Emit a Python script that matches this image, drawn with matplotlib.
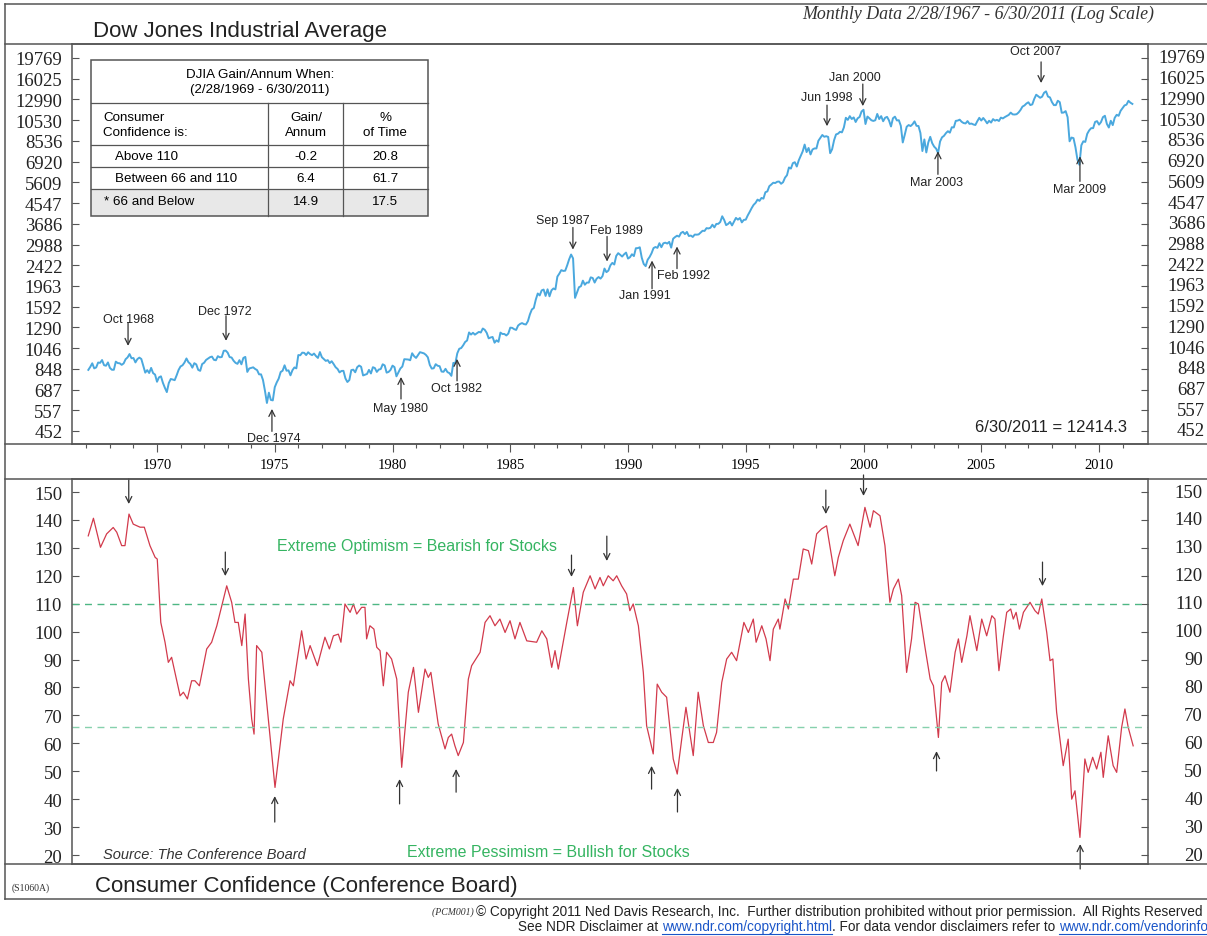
"""Dow Jones Industrial Average vs Consumer Confidence (NDR chart S1060A) recreation."""
import matplotlib
matplotlib.use("Agg")
import matplotlib.pyplot as plt
import numpy as np
from matplotlib.lines import Line2D
from matplotlib.patches import Rectangle
from matplotlib.ticker import FixedLocator, NullLocator

plt.rcParams["font.family"] = ["Liberation Sans", "DejaVu Sans"]
SERIF = ["Liberation Serif", "DejaVu Serif"]

# ---------------- data ----------------
# DJIA monthly closes, Feb 1967 .. Jun 2011 (Oct 1987 = crash low as drawn)
djia_start = 1967 + 1 / 12
djia = [
    839, 865, 897, 852, 860, 904, 901, 927, 880, 875, 905,                      # 1967 (Feb-Dec)
    856, 840, 840, 912, 899, 897, 883, 896, 935, 952, 985, 944,                 # 1968
    946, 905, 936, 950, 937, 873, 816, 837, 813, 856, 812, 800,                 # 1969
    744, 778, 786, 736, 700, 670, 734, 765, 761, 756, 794, 839,                 # 1970
    869, 879, 904, 942, 907, 891, 858, 898, 887, 839, 831, 890,                 # 1971
    902, 928, 941, 954, 960, 929, 925, 964, 953, 956, 1018, 1020,               # 1972
    999, 955, 951, 921, 901, 892, 926, 888, 947, 957, 822, 851,                 # 1973
    856, 861, 847, 837, 802, 802, 757, 679, 600, 666, 619, 616,                 # 1974
    704, 739, 768, 821, 832, 879, 832, 835, 794, 836, 860, 852,                 # 1975
    975, 973, 999, 997, 975, 1003, 985, 974, 990, 965, 947, 1005,               # 1976
    954, 936, 919, 926, 899, 916, 890, 862, 847, 818, 830, 831,                 # 1977
    770, 742, 757, 837, 841, 819, 862, 877, 866, 793, 799, 805,                 # 1978
    839, 809, 862, 855, 822, 842, 846, 888, 878, 816, 822, 839,                 # 1979
    876, 863, 786, 817, 851, 868, 935, 933, 932, 925, 993, 964,                 # 1980
    947, 975, 1004, 998, 992, 977, 953, 882, 850, 853, 889, 875,                # 1981
    871, 825, 823, 848, 820, 812, 790, 901, 896, 992, 1039, 1047,               # 1982
    1076, 1113, 1130, 1226, 1200, 1222, 1199, 1216, 1233, 1225, 1276, 1259,     # 1983
    1221, 1155, 1165, 1171, 1105, 1132, 1115, 1224, 1207, 1207, 1189, 1212,     # 1984
    1287, 1284, 1267, 1258, 1315, 1336, 1348, 1334, 1329, 1375, 1472, 1547,     # 1985
    1571, 1709, 1819, 1784, 1877, 1893, 1775, 1898, 1768, 1878, 1914, 1896,     # 1986
    2158, 2224, 2305, 2286, 2292, 2419, 2572, 2700, 2596, 1740, 1834, 1939,     # 1987
    1958, 2072, 1988, 2032, 2031, 2142, 2129, 2032, 2113, 2149, 2115, 2169,     # 1988
    2342, 2258, 2294, 2419, 2480, 2440, 2661, 2737, 2693, 2645, 2706, 2753,     # 1989
    2591, 2627, 2707, 2657, 2877, 2881, 2905, 2614, 2453, 2400, 2560, 2634,     # 1990
    2736, 2882, 2914, 2888, 3028, 2907, 3025, 3044, 3017, 3069, 2895, 3169,     # 1991
    3223, 3267, 3236, 3359, 3397, 3319, 3394, 3257, 3272, 3226, 3305, 3301,     # 1992
    3310, 3370, 3435, 3428, 3527, 3516, 3540, 3651, 3555, 3681, 3684, 3754,     # 1993
    3978, 3832, 3636, 3682, 3758, 3625, 3765, 3913, 3843, 3908, 3739, 3834,     # 1994
    3844, 4011, 4158, 4321, 4465, 4556, 4709, 4650, 4789, 4756, 5075, 5117,     # 1995
    5395, 5486, 5588, 5569, 5643, 5655, 5529, 5616, 5882, 6029, 6522, 6448,     # 1996
    6813, 6878, 6584, 7009, 7331, 7673, 8223, 7622, 7945, 7442, 7823, 7908,     # 1997
    7907, 8546, 8800, 9063, 8900, 8952, 8883, 7539, 7843, 8592, 9117, 9181,     # 1998
    9359, 9307, 9786, 10789, 10560, 10971, 10655, 10829, 10337, 10730, 10878, 11497,  # 1999
    11700, 10128, 10922, 10734, 10522, 10448, 10522, 11215, 10651, 10971, 10415, 10788,  # 2000
    10887, 10495, 9879, 10735, 10912, 10502, 10523, 9950, 8400, 9075, 9852, 10022,  # 2001
    9920, 10106, 10404, 9946, 9925, 9243, 7700, 8664, 7592, 8397, 8896, 8342,   # 2002
    8054, 7891, 7550, 8480, 8850, 8985, 9234, 9416, 9275, 9801, 9782, 10454,    # 2003
    10488, 10584, 10358, 10226, 10188, 10435, 10140, 10174, 10080, 10027, 10428, 10783,  # 2004
    10490, 10766, 10504, 10193, 10467, 10275, 10641, 10482, 10569, 10440, 10806, 10718,  # 2005
    10865, 10993, 11109, 11367, 11168, 11150, 11186, 11381, 11679, 12081, 12222, 12463,  # 2006
    12622, 12269, 12354, 13063, 13628, 13409, 13212, 13358, 13896, 14100, 13372, 13265,  # 2007
    12650, 12266, 12263, 12820, 12638, 11350, 11378, 11544, 10851, 8500, 8829, 8776,  # 2008
    8001, 7063, 6700, 8168, 8500, 8447, 9172, 9496, 9712, 9713, 10345, 10428,   # 2009
    10067, 10325, 10857, 11009, 10137, 9774, 10466, 10015, 10788, 11118, 11006, 11578,  # 2010
    11892, 12226, 12320, 12811, 12570, 12414,                                   # 2011 (Jan-Jun)
]

cc_year = [
    1967.08, 1967.30, 1967.60, 1967.86, 1968.14, 1968.29, 1968.50, 1968.64, 1968.81, 1968.99,
    1969.28, 1969.46, 1969.70, 1969.92, 1970.01, 1970.16, 1970.34, 1970.48, 1970.62, 1970.98,
    1971.12, 1971.29, 1971.47, 1971.61, 1971.80, 1972.11, 1972.32, 1972.54, 1972.96, 1973.17,
    1973.31, 1973.45, 1973.60, 1973.74, 1973.88, 1974.02, 1974.12, 1974.23, 1974.45, 1975.01,
    1975.36, 1975.65, 1975.79, 1976.14, 1976.33, 1976.50, 1976.81, 1977.13, 1977.32, 1977.49,
    1977.70, 1977.81, 1977.98, 1978.20, 1978.34, 1978.48, 1978.69, 1978.83, 1978.90, 1979.04,
    1979.21, 1979.33, 1979.47, 1979.61, 1979.75, 1979.96, 1980.18, 1980.39, 1980.67, 1980.89,
    1981.10, 1981.38, 1981.52, 1981.63, 1981.94, 1982.23, 1982.37, 1982.51, 1982.65, 1982.79,
    1983.01, 1983.22, 1983.36, 1983.72, 1983.93, 1984.14, 1984.35, 1984.56, 1984.78, 1984.99,
    1985.20, 1985.41, 1985.70, 1986.12, 1986.34, 1986.55, 1986.76, 1986.90, 1987.04, 1987.40,
    1987.68, 1987.85, 1988.10, 1988.39, 1988.60, 1988.81, 1988.95, 1989.16, 1989.37, 1989.52,
    1989.73, 1989.94, 1990.08, 1990.22, 1990.44, 1990.65, 1990.79, 1991.07, 1991.24, 1991.43,
    1991.64, 1991.92, 1992.09, 1992.28, 1992.46, 1992.77, 1992.98, 1993.20, 1993.41, 1993.62,
    1993.76, 1993.98, 1994.19, 1994.40, 1994.61, 1994.92, 1995.11, 1995.32, 1995.44, 1995.68,
    1995.86, 1996.03, 1996.17, 1996.38, 1996.45, 1996.67, 1996.81, 1997.02, 1997.23, 1997.44,
    1997.66, 1997.80, 1998.01, 1998.22, 1998.43, 1998.78, 1998.93, 1999.14, 1999.42, 1999.77,
    2000.06, 2000.28, 2000.42, 2000.70, 2000.91, 2001.12, 2001.27, 2001.48, 2001.62, 2001.83,
    2002.04, 2002.19, 2002.33, 2002.61, 2002.83, 2002.97, 2003.18, 2003.32, 2003.46, 2003.67,
    2003.89, 2004.03, 2004.17, 2004.39, 2004.52, 2004.81, 2005.02, 2005.23, 2005.45, 2005.58,
    2005.75, 2005.94, 2006.08, 2006.25, 2006.36, 2006.48, 2006.62, 2006.79, 2007.07, 2007.28,
    2007.42, 2007.57, 2007.78, 2007.92, 2008.04, 2008.20, 2008.48, 2008.69, 2008.84, 2008.98,
    2009.19, 2009.40, 2009.54, 2009.73, 2009.90, 2010.08, 2010.18, 2010.39, 2010.60, 2010.75,
    2010.96, 2011.10, 2011.24, 2011.45,
]
cc_value = [
    134.3, 140.6, 130.2, 135.0, 137.3, 135.6, 130.8, 130.8, 142.1, 138.5,
    137.4, 137.4, 130.8, 126.6, 126.0, 103.3, 96.2, 89.0, 90.8, 77.0,
    78.3, 75.9, 82.4, 82.4, 80.6, 93.8, 96.2, 102.1, 116.4, 110.5,
    103.3, 103.3, 95.0, 106.3, 83.0, 68.7, 63.3, 95.0, 92.6, 44.2,
    68.7, 82.4, 80.6, 100.3, 90.2, 95.0, 87.8, 98.0, 93.8, 98.5,
    99.1, 96.2, 109.9, 106.9, 109.9, 106.3, 108.7, 108.7, 97.4, 102.1,
    100.9, 94.4, 93.2, 80.6, 92.6, 90.2, 83.0, 51.4, 78.3, 87.2,
    71.1, 86.6, 83.6, 85.4, 66.9, 58.0, 62.1, 63.3, 59.1, 55.6,
    60.3, 83.0, 87.8, 92.6, 103.3, 105.7, 102.1, 104.5, 99.7, 103.9,
    97.4, 103.3, 96.7, 96.2, 100.3, 97.4, 87.2, 93.2, 86.6, 103.3,
    115.8, 102.1, 114.1, 120.0, 115.3, 119.4, 116.4, 120.0, 118.2, 120.0,
    116.4, 113.5, 107.5, 109.9, 102.1, 85.4, 66.3, 56.2, 81.2, 78.3,
    76.5, 54.4, 49.0, 61.5, 72.9, 55.6, 78.3, 66.3, 60.3, 60.3,
    63.9, 81.8, 90.2, 92.6, 89.6, 103.3, 99.7, 104.5, 96.2, 102.1,
    97.4, 89.6, 100.9, 104.5, 100.9, 111.7, 108.1, 118.8, 118.8, 129.6,
    129.0, 124.2, 135.0, 136.8, 137.9, 120.0, 126.6, 132.6, 138.5, 130.8,
    144.5, 137.4, 143.3, 141.5, 130.8, 110.5, 115.3, 118.8, 112.9, 85.4,
    97.4, 110.5, 109.9, 94.4, 83.0, 80.6, 62.1, 81.8, 84.2, 78.3,
    92.6, 97.4, 89.0, 98.5, 105.7, 93.2, 104.5, 98.5, 105.7, 104.5,
    86.0, 98.5, 106.9, 108.1, 104.5, 106.9, 100.9, 106.9, 110.5, 107.5,
    106.3, 111.7, 99.7, 89.6, 90.2, 71.1, 52.0, 61.5, 40.0, 43.0,
    26.3, 54.4, 49.6, 55.0, 50.8, 56.8, 47.8, 62.7, 52.0, 49.6,
    65.7, 72.3, 65.7, 59.1,
]

djia_ticks = [452, 557, 687, 848, 1046, 1290, 1592, 1963, 2422, 2988, 3686, 4547,
              5609, 6920, 8536, 10530, 12990, 16025, 19769]
cc_ticks = list(range(20, 151, 10))
year_ticks = list(range(1970, 2011, 5))
upper_band, lower_band = 110, 66

# top panel annotations: label, arrow x, arrow head, arrow tail, label x, label y
top_labels = ["Oct 1968", "Dec 1972", "Dec 1974", "May 1980", "Oct 1982", "Sep 1987", "Feb 1989",
              "Jan 1991", "Feb 1992", "Jun 1998", "Jan 2000", "Mar 2003", "Oct 2007", "Mar 2009"]
top_arrow_x = [1968.77, 1972.93, 1974.88, 1980.36, 1982.74, 1987.66, 1989.11,
               1991.02, 1992.08, 1998.45, 1999.97, 2003.16, 2007.54, 2009.19]
top_head = [1070, 1126, 565, 781, 938, 2838, 2515, 2540, 2928, 9907, 12139, 7684, 15335, 7302]
top_tail = [1353, 1452, 450, 625, 751, 3551, 3242, 1910, 2341, 12263, 15180, 6083, 19000, 5666]
top_label_x = [1968.77, 1972.89, 1974.95, 1980.32, 1982.70, 1987.24, 1989.49,
               1990.72, 1992.34, 1998.45, 1999.64, 2003.12, 2007.32, 2009.19]
top_label_y = [1407, 1528, 420, 570, 699, 3813, 3444, 1797, 2203, 13303, 16298, 5608, 21226, 5223]

# bottom panel arrows: x, head, tail
cc_arrow_x = [1968.8, 1972.9, 1987.6, 1989.1, 1998.4, 2000.0, 2007.6,
              1975.0, 1980.3, 1982.7, 1991.0, 1992.1, 2003.1, 2009.2]
cc_head = [145.7, 119.9, 119.6, 125.3, 142.1, 148.6, 116.3, 41.1, 47.2, 50.8, 51.9, 44.0, 57.2, 23.9]
cc_tail = [154.7, 128.5, 127.4, 134.2, 150.7, 156.1, 124.9, 31.8, 38.3, 42.5, 43.6, 35.4, 50.1, 15.0]

table_rows = ["Above 110", "Between 66 and 110", "* 66 and Below"]
table_gain = ["-0.2", "6.4", "14.9"]
table_time = ["20.8", "61.7", "17.5"]

# ---------------- figure ----------------
W, H = 1207, 937
fig = plt.figure(figsize=(W / 100, H / 100), dpi=100)


def fx(x):
    return x / W


def fy(y):
    return 1 - y / H


FRAME = "#555555"
BLUE = "#4aa8de"
RED = "#d23a4c"
GREEN = "#35b461"
ARROW = "#333333"
YFS = 13.5

ax = fig.add_axes([fx(72), fy(445), fx(1148) - fx(72), fy(45) - fy(445)])
axc = fig.add_axes([fx(72), fy(865), fx(1148) - fx(72), fy(480) - fy(865)])

x_djia = djia_start + np.arange(len(djia)) / 12
ax.plot(x_djia, djia, color=BLUE, lw=1.4)
ax.set_yscale("log")
ax.set_ylim(396, 22780)
ax.set_xlim(1966.39, 2012.08)
ax.yaxis.set_major_locator(FixedLocator(djia_ticks))
ax.yaxis.set_minor_locator(NullLocator())
ax.set_yticklabels([str(v) for v in djia_ticks])
ax.tick_params(axis="y", direction="in", length=5, width=0.8, color=FRAME, left=True, right=True,
               labelleft=True, labelright=False, pad=7, labelsize=YFS, labelfontfamily=SERIF[0],
               labelcolor="#222222")
for v in djia_ticks:
    ax.text(1.053, v, str(v), transform=ax.get_yaxis_transform(), ha="right", va="center",
            fontsize=YFS, family=SERIF, color="#222222")
ax.set_xticks(year_ticks)
ax.set_xticks(range(1967, 2012), minor=True)
ax.set_xticklabels([str(y) for y in year_ticks])
ax.tick_params(axis="x", which="major", direction="out", length=5.5, width=0.8, color=FRAME,
               pad=4.5, labelsize=10.5, labelfontfamily=SERIF[0])
ax.tick_params(axis="x", which="minor", direction="out", length=3, width=0.8, color=FRAME)

for lab, xa, hd, tl, lx, ly in zip(top_labels, top_arrow_x, top_head, top_tail, top_label_x, top_label_y):
    ax.annotate("", xy=(xa, hd), xytext=(xa, tl),
                arrowprops=dict(arrowstyle="->", color=ARROW, lw=0.9, shrinkA=0, shrinkB=0,
                                mutation_scale=11))
    ax.text(lx, ly, lab, ha="center", va="center", fontsize=9, color="#222222")
ax.text(0.9805, 0.0425, "6/30/2011 = 12414.3", transform=ax.transAxes, ha="right", va="center",
        fontsize=12, color="#222222")

# consumer confidence
axc.plot(cc_year, cc_value, color=RED, lw=0.9)
axc.axhline(upper_band, color="#4db784", lw=1.0, ls=(0, (5, 4)))
axc.axhline(lower_band, color="#86d1ad", lw=1.0, ls=(0, (5, 4)))
axc.set_xlim(1966.39, 2012.08)
axc.set_ylim(16.78, 154.66)
axc.set_yticks(cc_ticks)
axc.set_xticks([])
axc.tick_params(axis="y", direction="in", length=5, width=0.8, color=FRAME, left=True, right=True,
                labelleft=True, labelright=False, pad=7, labelsize=YFS, labelfontfamily=SERIF[0],
                labelcolor="#222222")
for v in cc_ticks:
    axc.text(1.051, v, str(v), transform=axc.get_yaxis_transform(), ha="right", va="center",
             fontsize=YFS, family=SERIF, color="#222222")
for xa, hd, tl in zip(cc_arrow_x, cc_head, cc_tail):
    axc.annotate("", xy=(xa, hd), xytext=(xa, tl), annotation_clip=False,
                 arrowprops=dict(arrowstyle="->", color=ARROW, lw=0.9, shrinkA=0, shrinkB=0,
                                 mutation_scale=11))
axc.text(1981.04, 130.7, "Extreme Optimism = Bearish for Stocks", ha="center", va="center",
         fontsize=11.5, color=GREEN)
axc.text(1986.6, 21.4, "Extreme Pessimism = Bullish for Stocks", ha="center", va="center",
         fontsize=11.5, color=GREEN)
axc.text(1967.7, 20.3, "Source: The Conference Board", ha="left", va="center", fontsize=10.5,
         style="italic", color="#333333")

for a in (ax, axc):
    for sp in a.spines.values():
        sp.set_color(FRAME)
        sp.set_linewidth(1.1)

# frame lines
for yy in (5, 45, 445, 480, 865, 900):
    fig.add_artist(Line2D([fx(5), fx(1207)], [fy(yy), fy(yy)], color=FRAME, lw=1.1))
fig.add_artist(Line2D([fx(5), fx(5)], [fy(5), fy(900)], color=FRAME, lw=1.1))

fig.text(fx(93), fy(31), "Dow Jones Industrial Average", fontsize=16, ha="left", va="center",
         color="#222222")
fig.text(fx(802), fy(14), "Monthly Data 2/28/1967 - 6/30/2011 (Log Scale)", fontsize=12.9,
         family=SERIF, style="italic", ha="left", va="center", color="#333333")
fig.text(fx(95), fy(887), "Consumer Confidence (Conference Board)", fontsize=16, ha="left",
         va="center", color="#222222")
fig.text(fx(12), fy(888), "(S1060A)", fontsize=7, family=SERIF, ha="left", va="center",
         color="#333333")

# table
TL, TR, TT, TB = 91, 428, 61, 217
fig.add_artist(Rectangle((fx(TL), fy(217)), fx(TR) - fx(TL), fy(190) - fy(217),
                         transform=fig.transFigure, facecolor="#e8e8e8", edgecolor="none"))
fig.add_artist(Rectangle((fx(TL), fy(TB)), fx(TR) - fx(TL), fy(TT) - fy(TB),
                         transform=fig.transFigure, facecolor="none", edgecolor=FRAME, lw=1.1))
for yy in (104, 146, 168, 190):
    fig.add_artist(Line2D([fx(TL), fx(TR)], [fy(yy), fy(yy)], color=FRAME, lw=0.9))
for xx in (268, 343):
    fig.add_artist(Line2D([fx(xx), fx(xx)], [fy(104), fy(TB)], color=FRAME, lw=0.9))
fs = 9.6
fig.text(fx(260), fy(75), "DJIA Gain/Annum When:", fontsize=fs, ha="center", va="center")
fig.text(fx(260), fy(90), "(2/28/1969 - 6/30/2011)", fontsize=fs, ha="center", va="center")
fig.text(fx(103), fy(118), "Consumer", fontsize=fs, ha="left", va="center")
fig.text(fx(103), fy(133), "Confidence is:", fontsize=fs, ha="left", va="center")
fig.text(fx(306), fy(118), "Gain/", fontsize=fs, ha="center", va="center")
fig.text(fx(306), fy(133), "Annum", fontsize=fs, ha="center", va="center")
fig.text(fx(385), fy(118), "%", fontsize=fs, ha="center", va="center")
fig.text(fx(385), fy(133), "of Time", fontsize=fs, ha="center", va="center")
for i, (r, g, t) in enumerate(zip(table_rows, table_gain, table_time)):
    yy = 157 + i * 22.5
    xl = 104 if r.startswith("*") else 115
    fig.text(fx(xl), fy(yy), r, fontsize=fs, ha="left", va="center")
    fig.text(fx(306), fy(yy), g, fontsize=fs, ha="center", va="center")
    fig.text(fx(385), fy(yy), t, fontsize=fs, ha="center", va="center")

# copyright lines, placed piece by piece
renderer = fig.canvas.get_renderer()
CFS = 9.8


def run_text(x0, y0, pieces):
    x = fx(x0)
    for s, kind in pieces:
        kw = dict(fontsize=CFS, color="#222222")
        if kind == "code":
            kw = dict(fontsize=7, family=SERIF, style="italic", color="#333333")
        if kind == "link":
            kw = dict(fontsize=CFS, color="#1a55c8")
        t = fig.text(x, fy(y0), s, ha="left", va="center", **kw)
        bb = t.get_window_extent(renderer)
        if kind == "link":
            fig.add_artist(Line2D([bb.x0 / W, bb.x1 / W], [(bb.y0 - 1) / H] * 2,
                                  color="#1a55c8", lw=0.8))
        x = bb.x1 / W


run_text(432, 912, [("(PCM001) ", "code"),
                    ("\u00a9 Copyright 2011 Ned Davis Research, Inc.  Further distribution prohibited "
                     "without prior permission.  All Rights Reserved", "plain")])
run_text(518, 927, [("See NDR Disclaimer at ", "plain"), ("www.ndr.com/copyright.html", "link"),
                    (". For data vendor disclaimers refer to ", "plain"),
                    ("www.ndr.com/vendorinfo", "link")])

fig.savefig("out.png", dpi=100)
